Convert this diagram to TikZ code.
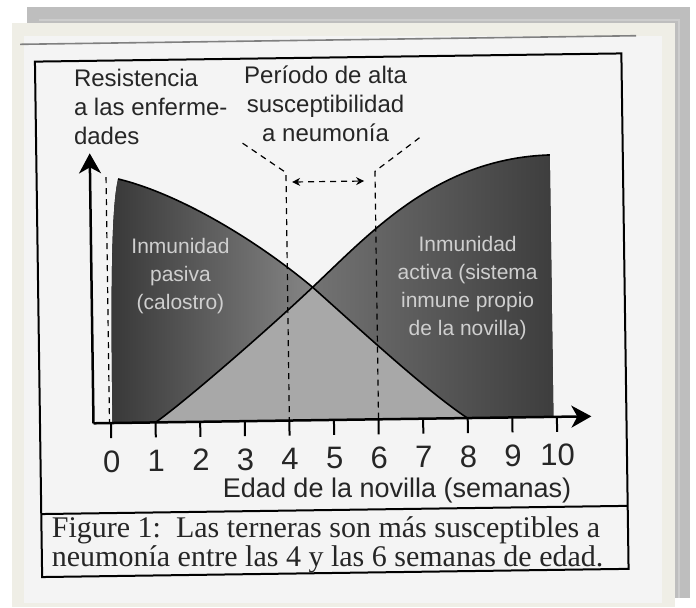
\documentclass[tikz,border=0pt]{standalone}
\usepackage{fontspec}
\setmainfont{Liberation Serif}
\setsansfont{Liberation Sans}
\usetikzlibrary{arrows.meta}
\definecolor{sheetgray}{HTML}{BEBEBE}
\definecolor{sheetline}{HTML}{CDCDCD}
\definecolor{panel}{HTML}{EFEEE6}
\definecolor{scan}{HTML}{F4F4F4}
\definecolor{inktext}{HTML}{262626}
\definecolor{softtext}{HTML}{CFCFCF}
\begin{document}
\begin{tikzpicture}[x=0.5pt,y=-0.5pt,
	axis/.style={line width=1.25pt,-{Stealth[length=10pt,width=11pt,inset=3pt]}},
	guide/.style={dash pattern=on 3pt off 2.5pt,line width=0.6pt},
	curve/.style={line width=0.8pt},
	tick/.style={line width=1pt},
	toplabel/.style={font=\sffamily\fontsize{12}{14.5}\selectfont,text=inktext,inner sep=0pt},
	inlabel/.style={font=\sffamily\fontsize{10.5}{14}\selectfont,text=softtext,align=center,inner sep=0pt},
	num/.style={font=\sffamily\fontsize{15.5}{18}\selectfont,text=inktext,inner sep=0pt,anchor=base}]
	\useasboundingbox (0,0) rectangle (696,607);
	\fill[white] (0,0) rectangle (696,607);
	\fill[sheetgray] (27,7) rectangle (690,598);
	\draw[sheetline,line width=0.6pt] (39,20) -- (679,20) -- (679,598);
	\fill[panel] (12,23) rectangle (675,607);
	\fill[scan] (24,36) rectangle (662,603);

	\begin{scope}[rotate around={0.8:(330,315)}]
	\draw[gray,line width=0.8pt] (24,40) -- (640,40);
	\draw[line width=1pt] (38.5,57.5) rectangle (625,573);
	\draw[line width=1pt] (38.5,510) -- (625,510);

	\fill[left color=black!78,right color=black!48]
		(111,420) .. controls (111,260) and (114,200) .. (120,176)
		.. controls (175,190) and (250,233) .. (313,287)
		.. controls (268,328.4) and (185,398.6) .. (154,420) -- cycle;
	\fill[black!34]
		(154,420) .. controls (185,398.6) and (268,328.4) .. (313,287)
		.. controls (360,330) and (425,392) .. (466,420) -- cycle;
	\fill[left color=black!55,right color=black!76]
		(313,287) .. controls (373,232) and (440,160) .. (552,158)
		-- (552,420) -- (466,420)
		.. controls (425,392) and (360,330) .. (313,287) -- cycle;

	\draw[curve] (120,176) .. controls (175,190) and (250,233) .. (313,287)
		.. controls (360,330) and (425,392) .. (466,420);
	\draw[curve] (154,420) .. controls (185,398.6) and (268,328.4) .. (313,287)
		.. controls (373,232) and (440,160) .. (552,158);

	\node (pasiva) [inlabel] at (181,274) {Inmunidad\\pasiva\\(calostro)};
	\node (activa) [inlabel] at (468,290) {Inmunidad\\activa (sistema\\inmune propio\\de la novilla)};

	\coordinate (o) at (92,420);
	\coordinate (ytip) at (92,150);
	\coordinate (xtip) at (590,420);
	\draw[axis] (o) -- (ytip);
	\draw[axis] (o) -- (xtip);

	\foreach \i in {0,...,10} {
		\coordinate (t\i) at (109.5+44.6*\i,420);
		\coordinate (b\i) at (109.5+44.6*\i,435);
		\draw[tick] (t\i) -- (b\i);
		\node (n\i) [num] at (109.5+44.6*\i,469) {\i};
	}

	\coordinate (g0) at (108,174);
	\coordinate (g4) at (288,172);
	\coordinate (g6) at (377,172);
	\coordinate (s4) at (245,142);
	\coordinate (s6) at (422,139);
	\coordinate (a4) at (294,181.5);
	\coordinate (a6) at (366,181.5);
	\draw[guide] (g0) -- (108,420);
	\draw[guide] (s4) -- (g4) -- (t4);
	\draw[guide] (s6) -- (g6) -- (t6);
	\draw[guide,{Stealth[length=4pt,width=4pt]}-{Stealth[length=4pt,width=4pt]}] (a4) -- (a6);

	\node (resist) [toplabel,align=left,anchor=base west] at (76,141) {Resistencia\\a las enferme-\\dades};
	\node (periodo) [toplabel,align=center,anchor=base] at (328,141) {Período de alta\\susceptibilidad\\a neumonía};
	\node (edad) [font=\sffamily\fontsize{13.5}{16}\selectfont,text=inktext,inner sep=0pt,anchor=base east] at (569,500.5) {Edad de la novilla (semanas)};

	\node (caption) [font=\fontsize{15}{14.5}\selectfont,text=inktext,align=left,inner sep=0pt,anchor=base west] at (48,563)
		{Figure 1:\enspace Las terneras son más susceptibles a\\neumonía entre las 4 y las 6 semanas de edad.};
	\end{scope}
\end{tikzpicture}
\end{document}
